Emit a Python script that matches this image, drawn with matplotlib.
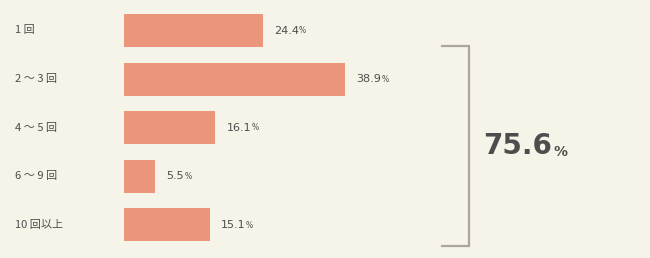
import matplotlib
matplotlib.use("Agg")
import matplotlib.pyplot as plt

categories = ["1 回", "2 ～ 3 回", "4 ～ 5 回", "6 ～ 9 回", "10 回以上"]
values = [24.4, 38.9, 16.1, 5.5, 15.1]
total_label = "75.6"

BG = "#f6f3e8"
BAR = "#eb967a"
TXT = "#4d4d4d"
BRK = "#aaa69b"

fig = plt.figure(figsize=(6.5, 2.58), dpi=100, facecolor=BG)
ax = fig.add_axes([0, 0, 1, 1])
ax.set_facecolor(BG)

px_per_unit = 5.68
x0 = 124
ax.set_xlim(-x0 / px_per_unit, (650 - x0) / px_per_unit)
step = 48.6
c0 = 30.5
ax.set_ylim((258 - c0) / step, -c0 / step)
ax.axis("off")

ypos = list(range(len(categories)))
ax.barh(ypos, values, height=0.68, color=BAR, edgecolor="none")

jp = ["Noto Sans CJK JP", "DejaVu Sans"]
for y, cat, v in zip(ypos, categories, values):
    ax.text(15 / 650, y, cat, transform=ax.get_yaxis_transform(), ha="left",
            va="center", fontsize=8, color=TXT, family=jp)
    t = ax.annotate(f"{v}", xy=(v, y), xytext=(8, 0), textcoords="offset points",
                    ha="left", va="center", fontsize=8, color=TXT,
                    family="DejaVu Sans")
    ax.annotate("%", xy=(1, 0), xycoords=t, xytext=(0.3, 0.2),
                textcoords="offset points", ha="left", va="bottom",
                fontsize=5.5, color=TXT, family="DejaVu Sans")

# bracket
bx1 = (442 - x0) / px_per_unit
bx2 = (469 - x0) / px_per_unit
by1 = (46 - c0) / step
by2 = (246 - c0) / step
ax.plot([bx1, bx2, bx2, bx1], [by1, by1, by2, by2], color=BRK, lw=1.6,
        solid_joinstyle="miter")

ymid = (by1 + by2) / 2
tt = ax.text((483 - x0) / px_per_unit, ymid, total_label, ha="left", va="center",
             fontsize=20, fontweight="bold", color=TXT, family="DejaVu Sans")
ax.annotate("%", xy=(1, 0), xycoords=tt, xytext=(1, 0.8),
            textcoords="offset points", ha="left", va="bottom",
            fontsize=10, fontweight="bold", color=TXT, family="DejaVu Sans")

fig.savefig("out.png", dpi=100, facecolor=BG)
